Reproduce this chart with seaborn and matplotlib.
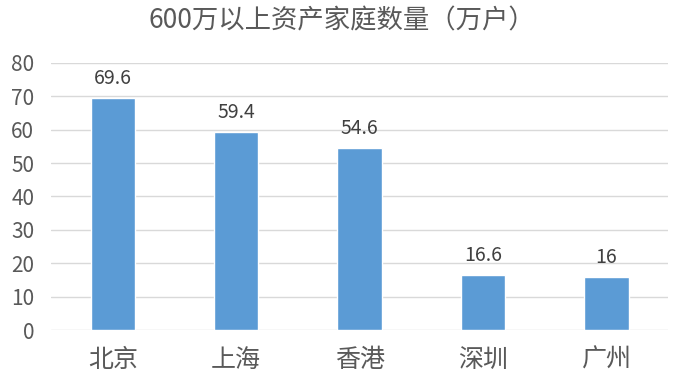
import matplotlib
matplotlib.use("Agg")
import matplotlib.pyplot as plt
import seaborn as sns
import pandas as pd

categories = ["北京", "上海", "香港", "深圳", "广州"]
values = [69.6, 59.4, 54.6, 16.6, 16]
value_labels = ["69.6", "59.4", "54.6", "16.6", "16"]
yticks = [0, 10, 20, 30, 40, 50, 60, 70, 80]
title = "600万以上资产家庭数量（万户）"

sns.set_theme(style="white")
plt.rcParams['font.family'] = ['Noto Sans CJK SC', 'DejaVu Sans']

df = pd.DataFrame({"city": categories, "value": values})

fig = plt.figure(figsize=(6.84, 3.86), dpi=100)
ax = fig.add_axes([0.0746, 0.145, 0.9024, 0.692])
sns.barplot(data=df, x="city", y="value", color="#5B9BD5", width=0.36,
            saturation=1, ax=ax, zorder=3)
ax.set_ylim(0, 80)
ax.set_yticks(yticks)
ax.set_xlim(-0.5, 4.5)
ax.grid(axis="y", color="#D9D9D9", linewidth=1, zorder=0)
for s in ax.spines.values():
    s.set_visible(False)
ax.set_xlabel("")
ax.set_ylabel("")
ax.tick_params(axis="y", labelsize=15, colors="#595959", length=0, pad=12)
ax.tick_params(axis="x", labelsize=18, colors="#595959", length=0, pad=12)
for i, (v, lab) in enumerate(zip(values, value_labels)):
    ax.text(i, v + 2.5, lab, ha="center", va="bottom", fontsize=14, color="#404040")
fig.text(0.5, 0.945, title, ha="center", va="center", fontsize=19, color="#595959")
fig.savefig("out.png", dpi=100)
